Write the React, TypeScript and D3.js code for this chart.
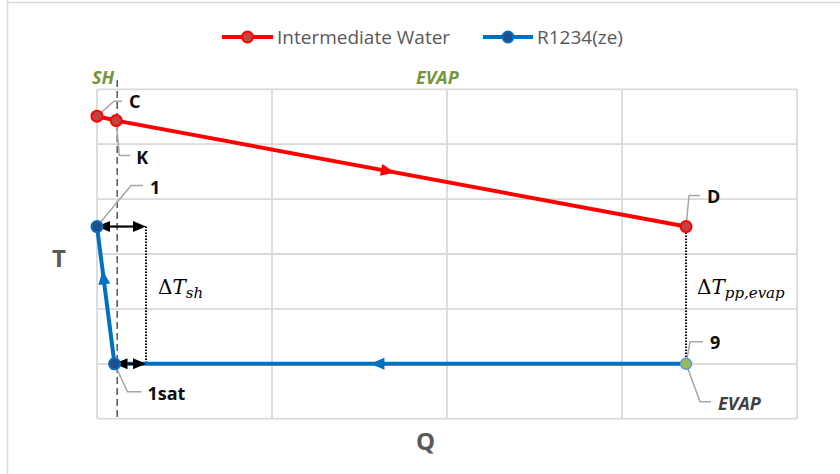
import React from "react";
import * as d3 from "d3";

// Heat-exchange T–Q diagram: intermediate water stream vs R1234(ze) refrigerant
const waterLabels = ["C", "K", "D"];
const waterQ = [0, 0.11, 3.366];
const waterT = [5.51, 5.43, 3.5];

const refLabels = ["9", "1sat", "1"];
const refQ = [3.366, 0.1, 0];
const refT = [1.0, 1.0, 3.5];

const qTicks = [0, 1, 2, 3, 4];
const tTicks = [0, 1, 2, 3, 4, 5, 6];

const seriesNames = ["Intermediate Water", "R1234(ze)"];

// superheat boundary and ΔT span limit
const shBoundaryQ = 0.115;
const shSpanQ = 0.28;

const W = 840;
const H = 474;
const plot = { left: 97, right: 797, top: 89.3, bottom: 418.7 };

const x = d3.scaleLinear().domain([0, 4]).range([plot.left, plot.right]);
const y = d3.scaleLinear().domain([0, 6]).range([plot.bottom, plot.top]);

const RED = "#FF0000";
const BLUE = "#0070C0";
const GRID = "#D9D9D9";
const LEADER = "#A6A6A6";
const OLIVE = "#77933C";
const TEXT_GRAY = "#595959";
const FONT = "'Open Sans', 'Noto Sans', sans-serif";
const MATH = "'DejaVu Serif', serif";

function triangle(cx: number, cy: number, angle: number, len = 13, half = 5.5) {
  const p = d3.path();
  const c = Math.cos(angle), s = Math.sin(angle);
  const tip = [cx + c * len / 2, cy + s * len / 2];
  const bx = cx - c * len / 2, by = cy - s * len / 2;
  p.moveTo(tip[0], tip[1]);
  p.lineTo(bx - s * half, by + c * half);
  p.lineTo(bx + s * half, by - c * half);
  p.closePath();
  return p.toString();
}

function flowArrow(x0: number, y0: number, x1: number, y1: number, t: number) {
  const px0 = x(x0), py0 = y(y0), px1 = x(x1), py1 = y(y1);
  const cx = px0 + (px1 - px0) * t;
  const cy = py0 + (py1 - py0) * t;
  return triangle(cx, cy, Math.atan2(py1 - py0, px1 - px0), 14, 6);
}

function DoubleArrow({ q0, q1, t }: { q0: number; q1: number; t: number }) {
  const x0 = x(q0), x1 = x(q1), yy = y(t);
  const len = 13;
  return (
    <g>
      <line x1={x0 + len} x2={x1 - len} y1={yy} y2={yy} stroke="#000" strokeWidth={2.2} />
      <path d={triangle(x0 + len / 2, yy, Math.PI, len, 5.5)} fill="#000" />
      <path d={triangle(x1 - len / 2, yy, 0, len, 5.5)} fill="#000" />
    </g>
  );
}

export default function App() {
  const line = d3
    .line<[number, number]>()
    .x((d) => x(d[0]))
    .y((d) => y(d[1]));

  const waterPts: [number, number][] = waterQ.map((q, i) => [q, waterT[i]]);
  const refPts: [number, number][] = refQ.map((q, i) => [q, refT[i]]);

  const C = [x(waterQ[0]), y(waterT[0])];
  const K = [x(waterQ[1]), y(waterT[1])];
  const D = [x(waterQ[2]), y(waterT[2])];
  const P9 = [x(refQ[0]), y(refT[0])];
  const P1s = [x(refQ[1]), y(refT[1])];
  const P1 = [x(refQ[2]), y(refT[2])];

  const labelStyle = { fontFamily: FONT, fontWeight: 700, fontSize: 18, fill: "#0D0D0D" } as const;

  return (
    <svg
      width={W}
      height={H}
      viewBox={`0 0 ${W} ${H}`}
      style={{ position: "absolute", left: 0, top: 0, background: "#fff" }}
    >
      <rect x={0} y={0} width={W} height={H} fill="#fff" />
      {/* chart frame */}
      <line x1={7.5} x2={7.5} y1={0} y2={H} stroke={GRID} strokeWidth={1.5} />
      <line x1={7} x2={W} y1={2.5} y2={2.5} stroke={GRID} strokeWidth={1.5} />

      {/* gridlines */}
      {qTicks.map((q) => (
        <line key={"gx" + q} x1={x(q)} x2={x(q)} y1={plot.top} y2={plot.bottom} stroke={GRID} strokeWidth={1.8} />
      ))}
      {tTicks.map((t) => (
        <line key={"gy" + t} x1={plot.left} x2={plot.right} y1={y(t)} y2={y(t)} stroke={GRID} strokeWidth={1.8} />
      ))}

      {/* legend */}
      <g>
        <line x1={222} x2={273} y1={37} y2={37} stroke={RED} strokeWidth={4} />
        <circle cx={247.5} cy={37} r={5.5} fill="#BF4444" stroke={RED} strokeWidth={2} />
        <text x={277} y={43.5} fontFamily={FONT} fontSize={19} fill={TEXT_GRAY}>{seriesNames[0]}</text>
        <line x1={483} x2={533} y1={37} y2={37} stroke={BLUE} strokeWidth={4} />
        <circle cx={508} cy={37} r={5.5} fill="#1F4E89" stroke={BLUE} strokeWidth={2} />
        <text x={537} y={43.5} fontFamily={FONT} fontSize={19} fill={TEXT_GRAY}>{seriesNames[1]}</text>
      </g>

      {/* zone labels */}
      <text x={92} y={84} fontFamily={FONT} fontSize={18} fontWeight={700} fontStyle="italic" fill={OLIVE}>SH</text>
      <text x={416} y={84} fontFamily={FONT} fontSize={18} fontWeight={700} fontStyle="italic" fill={OLIVE}>EVAP</text>

      {/* axis titles */}
      <text x={52} y={267} fontFamily={FONT} fontSize={24} fontWeight={700} fill={TEXT_GRAY}>T</text>
      <text x={416} y={450} fontFamily={FONT} fontSize={24} fontWeight={700} fill={TEXT_GRAY}>Q</text>

      {/* superheat boundary */}
      <line
        x1={x(shBoundaryQ)} x2={x(shBoundaryQ)} y1={y(6.17)} y2={y(0)}
        stroke="#000" strokeWidth={1} strokeDasharray="7 4"
      />
      {/* ΔT guides */}
      <line x1={x(shSpanQ)} x2={x(shSpanQ)} y1={y(refT[2])} y2={y(refT[1])} stroke="#000" strokeWidth={2} strokeDasharray="1.5 1.5" />
      <line x1={D[0]} x2={D[0]} y1={D[1]} y2={P9[1]} stroke="#000" strokeWidth={2} strokeDasharray="1.5 1.5" />

      {/* water stream */}
      <path d={line(waterPts) ?? ""} fill="none" stroke={RED} strokeWidth={4} />
      <path d={flowArrow(waterQ[1], waterT[1], waterQ[2], waterT[2], 0.477)} fill={RED} />

      {/* refrigerant stream */}
      <path d={line(refPts) ?? ""} fill="none" stroke={BLUE} strokeWidth={4} />
      <path d={flowArrow(refQ[0], refT[0], refQ[1], refT[1], 0.54)} fill={BLUE} />
      <path d={flowArrow(refQ[1], refT[1], refQ[2], refT[2], 0.63)} fill={BLUE} />

      {/* superheat span arrows */}
      <DoubleArrow q0={refQ[2]} q1={shSpanQ} t={refT[2]} />
      <DoubleArrow q0={refQ[1]} q1={shSpanQ} t={refT[1]} />

      {/* leader lines */}
      <g fill="none" stroke={LEADER} strokeWidth={1.5}>
        <polyline points={`${C[0]},${C[1]} ${C[0] + 17},${C[1] - 15} ${C[0] + 25},${C[1] - 15}`} />
        <polyline points={`${K[0]},${K[1]} ${K[0] + 3},${K[1] + 35} ${K[0] + 14},${K[1] + 35}`} />
        <polyline points={`${P1[0]},${P1[1]} ${P1[0] + 34},${P1[1] - 41} ${P1[0] + 46},${P1[1] - 41}`} />
        <polyline points={`${D[0]},${D[1]} ${D[0] + 3},${D[1] - 31} ${D[0] + 14},${D[1] - 31}`} />
        <polyline points={`${P9[0]},${P9[1]} ${P9[0] + 4},${P9[1] - 22} ${P9[0] + 17},${P9[1] - 22}`} />
        <polyline points={`${P9[0]},${P9[1]} ${P9[0] + 14},${P9[1] + 38} ${P9[0] + 25},${P9[1] + 38}`} />
        <polyline points={`${P1s[0]},${P1s[1]} ${P1s[0] + 13},${P1s[1] + 28} ${P1s[0] + 27},${P1s[1] + 28}`} />
      </g>

      {/* markers */}
      {waterPts.map((p, i) => (
        <circle key={"w" + i} cx={x(p[0])} cy={y(p[1])} r={5.5} fill="#BF4444" stroke={RED} strokeWidth={2} />
      ))}
      {refPts.map((p, i) => (
        <circle
          key={"r" + i}
          cx={x(p[0])}
          cy={y(p[1])}
          r={5.5}
          fill={i === 0 ? "#9BBB59" : "#1F4E89"}
          stroke={i === 0 ? "#5B9BD5" : BLUE}
          strokeWidth={i === 0 ? 1.5 : 2}
        />
      ))}

      {/* point labels */}
      <text x={C[0] + 32} y={C[1] - 8} {...labelStyle}>{waterLabels[0]}</text>
      <text x={K[0] + 20} y={K[1] + 43} {...labelStyle}>{waterLabels[1]}</text>
      <text x={P1[0] + 53} y={P1[1] - 33} {...labelStyle}>{refLabels[2]}</text>
      <text x={D[0] + 21} y={D[1] - 24} {...labelStyle}>{waterLabels[2]}</text>
      <text x={P9[0] + 24} y={P9[1] - 15} {...labelStyle}>{refLabels[0]}</text>
      <text x={P1s[0] + 33} y={P1s[1] + 36} {...labelStyle}>{refLabels[1]}</text>
      <text x={P9[0] + 32} y={P9[1] + 46} fontFamily={FONT} fontSize={18} fontWeight={700} fontStyle="italic" fill="#404040">EVAP</text>

      {/* ΔT annotations */}
      <text x={158} y={294} fontFamily={MATH} fontSize={20} fill="#000">
        Δ<tspan fontStyle="italic">T</tspan>
        <tspan fontSize={15} fontStyle="italic" dy={4}>sh</tspan>
      </text>
      <text x={697} y={294} fontFamily={MATH} fontSize={20} fill="#000">
        Δ<tspan fontStyle="italic">T</tspan>
        <tspan fontSize={15} fontStyle="italic" dy={4}>pp,evap</tspan>
      </text>
    </svg>
  );
}
